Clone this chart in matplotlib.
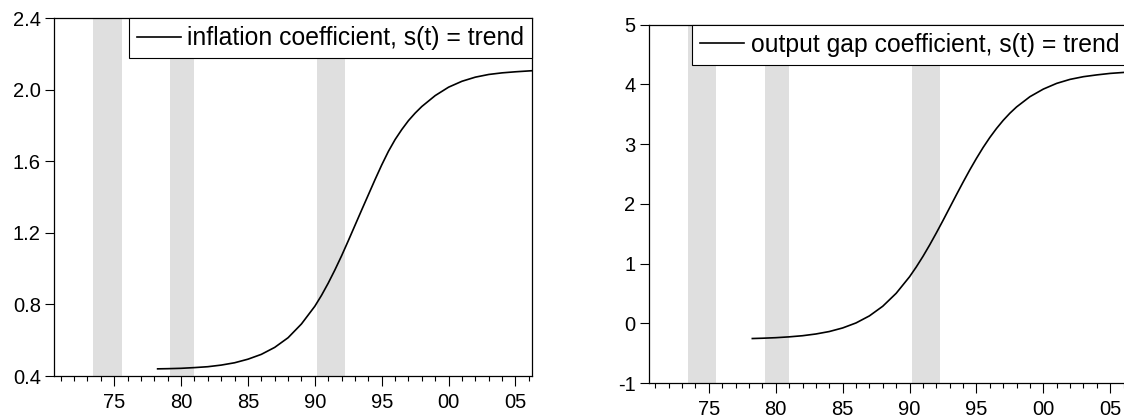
import matplotlib.pyplot as plt
from matplotlib.ticker import FixedLocator, MultipleLocator, FuncFormatter

plt.rcParams['font.family'] = ['Liberation Sans', 'DejaVu Sans']

# shaded periods (years)
bands = [(1973.45, 1975.55), (1979.2, 1981.0), (1990.2, 1992.25)]

# trend coefficient paths
years = [1978.25, 1979, 1980, 1981, 1982, 1983, 1984, 1985, 1986, 1987,
         1988, 1989, 1990, 1990.5, 1991, 1991.5, 1992, 1992.5, 1993, 1993.5,
         1994, 1994.5, 1995, 1995.5, 1996, 1996.5, 1997, 1997.5, 1998, 1999,
         2000, 2001, 2002, 2003, 2004, 2005, 2006.25]
inflation = [0.440, 0.441, 0.443, 0.447, 0.452, 0.461, 0.474, 0.494, 0.521, 0.560,
             0.614, 0.691, 0.790, 0.851, 0.919, 0.993, 1.072, 1.156, 1.242, 1.328,
             1.413, 1.498, 1.580, 1.656, 1.722, 1.778, 1.828, 1.870, 1.907, 1.968,
             2.015, 2.048, 2.071, 2.086, 2.095, 2.101, 2.107]
output_gap = [-0.255, -0.250, -0.241, -0.227, -0.208, -0.179, -0.138, -0.078, 0.006, 0.124,
              0.286, 0.502, 0.779, 0.942, 1.119, 1.310, 1.512, 1.721, 1.936, 2.151,
              2.362, 2.567, 2.761, 2.944, 3.111, 3.262, 3.398, 3.518, 3.623, 3.795,
              3.922, 4.018, 4.085, 4.130, 4.160, 4.185, 4.205]

xticks = [1975, 1980, 1985, 1990, 1995, 2000, 2005]
panels = [
    ([0.048, 0.0983, 0.4255, 0.8578], inflation, 'inflation coefficient, s(t) = trend',
     (0.4, 2.4), [0.4, 0.8, 1.2, 1.6, 2.0, 2.4], '%.1f'),
    ([0.5771, 0.0815, 0.4255, 0.8592], output_gap, 'output gap coefficient, s(t) = trend',
     (-1, 5), [-1, 0, 1, 2, 3, 4, 5], '%d'),
]

fig = plt.figure(figsize=(11.24, 4.17), dpi=100)

for rect, vals, label, ylim, yticks, yfmt in panels:
    ax = fig.add_axes(rect)
    for a, b in bands:
        ax.axvspan(a, b, color='#dfdfdf', lw=0, zorder=0)
    ax.plot(years, vals, color='black', lw=1.2, label=label, zorder=2)

    ax.set_xlim(1970.5, 2006.25)
    ax.set_ylim(*ylim)
    ax.xaxis.set_major_locator(FixedLocator(xticks))
    ax.xaxis.set_minor_locator(MultipleLocator(1))
    ax.xaxis.set_major_formatter(FuncFormatter(lambda v, p: '%02d' % (int(round(v)) % 100)))
    ax.set_yticks(yticks)
    ax.set_yticklabels([yfmt % t for t in yticks])

    ax.tick_params(axis='x', which='major', direction='out', length=7, width=0.8,
                   labelsize=14.5, pad=5)
    ax.tick_params(axis='x', which='minor', direction='out', length=3.6, width=0.8)
    ax.tick_params(axis='y', direction='out', length=6.5, width=0.8, labelsize=14.5, pad=3)
    for s in ax.spines.values():
        s.set_linewidth(0.9)

    leg = ax.legend(loc='upper right', borderaxespad=0, fontsize=17.8, fancybox=False,
                    framealpha=1, edgecolor='black', handlelength=1.8,
                    handletextpad=0.25, borderpad=0.32)
    leg.get_frame().set_linewidth(0.8)

fig.savefig('out.png', dpi=100)
